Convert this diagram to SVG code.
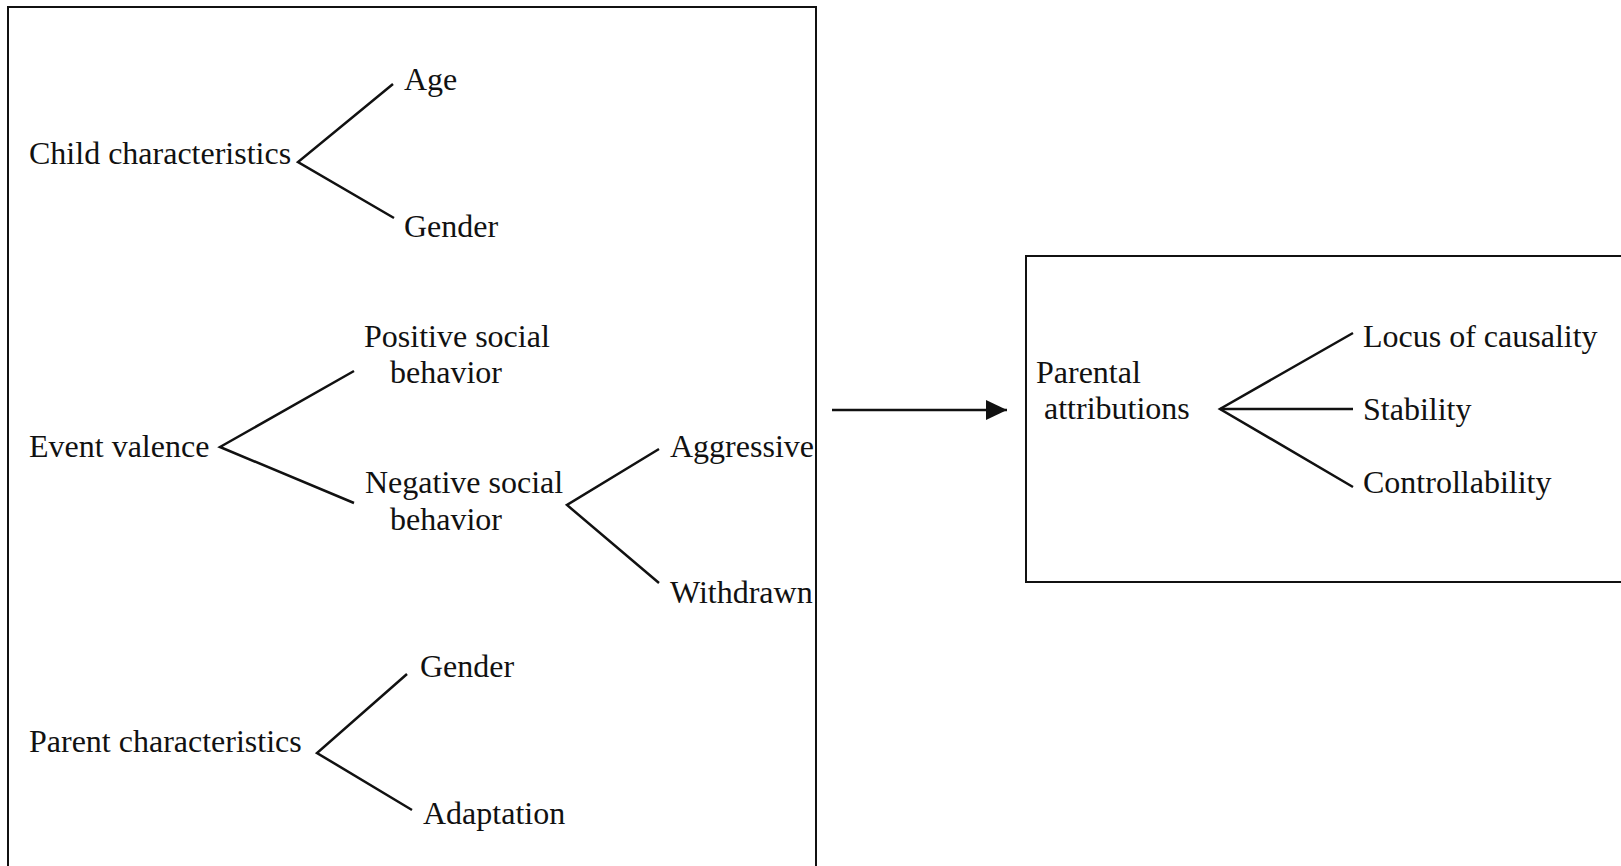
<svg xmlns="http://www.w3.org/2000/svg" width="1621" height="866" viewBox="0 0 1621 866">
<style>
text{font-family:"Liberation Serif","Times New Roman",serif;font-size:32px;fill:#111}
.box{fill:none;stroke:#111;stroke-width:2}
.ln{stroke:#111;stroke-width:2.5;fill:none}
</style>
<defs>
<marker id="ah" markerWidth="22" markerHeight="20" refX="21" refY="10" orient="auto" markerUnits="userSpaceOnUse">
<path d="M0,0 L21,10 L0,20 Z" fill="#111"/>
</marker>
</defs>
<rect width="1621" height="866" fill="#fff"/>
<g id="predictors">
<rect class="box" x="8" y="7" width="808" height="870"/>
</g>
<g id="child">
<text x="29" y="164">Child characteristics</text>
<text x="404" y="90">Age</text>
<text x="404" y="237">Gender</text>
</g>
<g id="event">
<text x="29" y="457">Event valence</text>
<text x="364" y="347">Positive social</text>
<text x="390" y="383">behavior</text>
<text x="365" y="493">Negative social</text>
<text x="390" y="530">behavior</text>
<text x="670" y="457">Aggressive</text>
<text x="670" y="603">Withdrawn</text>
</g>
<g id="parent">
<text x="29" y="752">Parent characteristics</text>
<text x="420" y="677">Gender</text>
<text x="423" y="824">Adaptation</text>
</g>
<g id="attributions">
<rect class="box" x="1026" y="256" width="620" height="326"/>
<text x="1036" y="383">Parental</text>
<text x="1044" y="419">attributions</text>
<text x="1363" y="347">Locus of causality</text>
<text x="1363" y="420">Stability</text>
<text x="1363" y="493">Controllability</text>
</g>
<g id="connectors">
<polyline class="ln" points="393,84 298,162 394,218"/>
<polyline class="ln" points="354,371 220,447 354,503"/>
<polyline class="ln" points="659,449 567,505 659,583"/>
<polyline class="ln" points="407,674 317,753 412,810"/>
<polyline class="ln" points="1353,333 1220,409 1353,487"/>
<line class="ln" x1="1220" y1="409" x2="1353" y2="409"/>
<line class="ln" x1="832" y1="410" x2="1007" y2="410" marker-end="url(#ah)"/>
</g>
</svg>
